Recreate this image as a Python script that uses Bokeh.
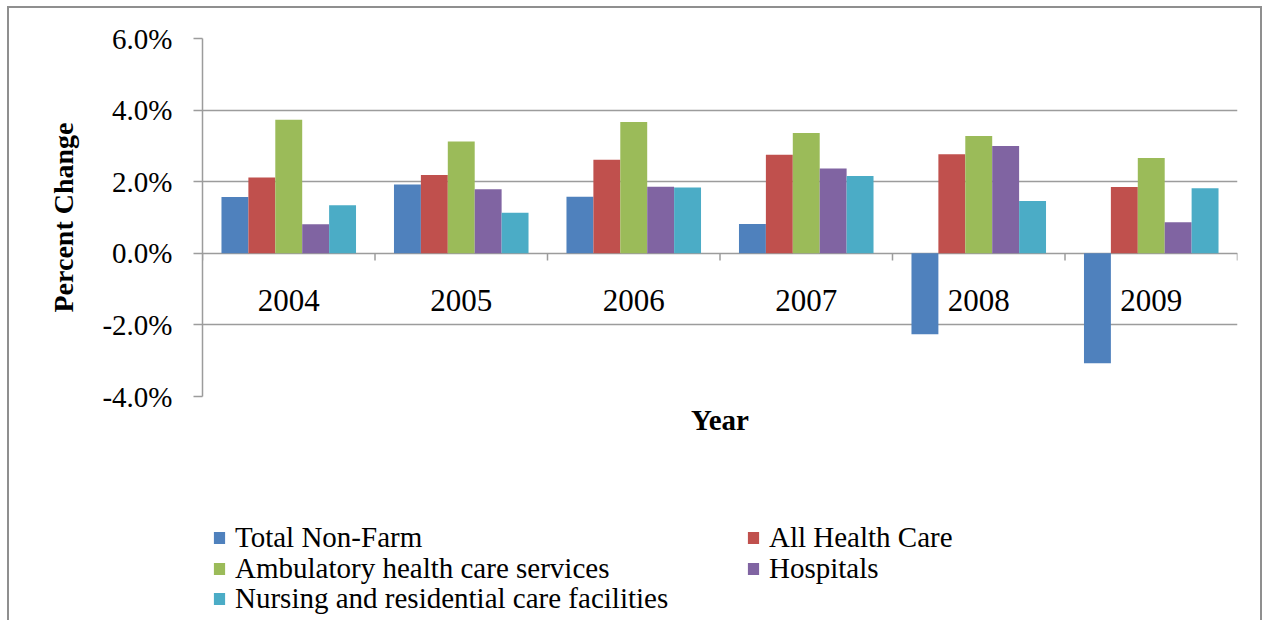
from bokeh.plotting import figure
from bokeh.layouts import column
from bokeh.models import (ColumnDataSource, FactorRange, Range1d, FixedTicker,
                          PrintfTickFormatter, Legend, LegendItem, Title)
from bokeh.transform import dodge
from bokeh.core.properties import value
from bokeh.embed import file_html
from bokeh.resources import INLINE

# Annual percent change in employment
years = ["2004", "2005", "2006", "2007", "2008", "2009"]
total_non_farm = [1.57, 1.92, 1.58, 0.82, -2.26, -3.07]
all_health_care = [2.12, 2.19, 2.61, 2.75, 2.77, 1.85]
ambulatory = [3.73, 3.12, 3.67, 3.36, 3.28, 2.66]
hospitals = [0.81, 1.79, 1.86, 2.37, 3.00, 0.87]
nursing = [1.34, 1.13, 1.84, 2.16, 1.46, 1.82]

series_names = ["Total Non-Farm", "All Health Care", "Ambulatory health care services",
                "Hospitals", "Nursing and residential care facilities"]
series_keys = ["total_non_farm", "all_health_care", "ambulatory", "hospitals", "nursing"]
colors = ["#4F81BD", "#C0504D", "#9BBB59", "#8064A2", "#4BACC6"]
y_ticks = [-4, -2, 0, 2, 4, 6]

SERIF = "Liberation Serif"
GRID = "#9c9c9c"
FRAME = "2px solid #8f8f8f"

source = ColumnDataSource(dict(
    year=years,
    total_non_farm=total_non_farm,
    all_health_care=all_health_care,
    ambulatory=ambulatory,
    hospitals=hospitals,
    nursing=nursing,
))

# ---- bar chart -------------------------------------------------------------
p = figure(
    x_range=FactorRange(*years, range_padding=0, factor_padding=0),
    y_range=Range1d(y_ticks[0], y_ticks[-1]),
    width=1255, height=454,
    x_axis_location=None,
    output_backend="svg", toolbar_location=None,
    min_border_left=193, min_border_right=27,
    min_border_top=30, min_border_bottom=66,
)
p.margin = (6, 0, 0, 7)
p.styles = {"border-left": FRAME, "border-right": FRAME, "border-top": FRAME}
p.title.visible = False
p.outline_line_color = None
p.background_fill_color = "white"
p.border_fill_color = "white"

# bars, five per year, side by side
bar_w = 0.156
for i, (key, col) in enumerate(zip(series_keys, colors)):
    p.vbar(x=dodge("year", (i - 2) * bar_w, range=p.x_range), top=key, bottom=0,
           width=bar_w, source=source, fill_color=col, line_color=None)

# y axis
p.yaxis.ticker = FixedTicker(ticks=y_ticks)
p.yaxis.formatter = PrintfTickFormatter(format="%.1f%%")
p.yaxis.major_tick_out = 9
p.yaxis.major_tick_in = 0
p.yaxis.minor_tick_line_color = None
p.yaxis.axis_line_color = GRID
p.yaxis.axis_line_width = 1.5
p.yaxis.major_tick_line_color = GRID
p.yaxis.major_tick_line_width = 1.5
p.yaxis.major_label_standoff = 21
p.yaxis.major_label_text_font = SERIF
p.yaxis.major_label_text_font_size = "29px"
p.yaxis.major_label_text_color = "black"
p.yaxis.axis_label = "Percent Change"
p.yaxis.axis_label_text_font = SERIF
p.yaxis.axis_label_text_font_style = "bold"
p.yaxis.axis_label_text_font_size = "28px"
p.yaxis.axis_label_text_color = "black"
p.yaxis.axis_label_standoff = 20

p.ygrid.ticker = FixedTicker(ticks=y_ticks)
p.ygrid.grid_line_color = GRID
p.ygrid.grid_line_width = 1.5
p.xgrid.visible = False

# category axis drawn along the zero line: ticks at category boundaries
p.segment(x0=dodge("year", -0.5, range=p.x_range), x1=dodge("year", -0.5, range=p.x_range),
          y0=0, y1=-0.2, source=source, line_color=GRID, line_width=1.5)
last_src = ColumnDataSource(dict(year=[years[-1]]))
p.segment(x0=dodge("year", 0.5, range=p.x_range), x1=dodge("year", 0.5, range=p.x_range),
          y0=0, y1=-0.2, source=last_src, line_color=GRID, line_width=1.5)

p.text(x="year", y=-1.32, text="year", source=source, text_align="center",
       text_baseline="alphabetic", text_font=value(SERIF), text_font_size="31px",
       text_color="black")

# x axis title
p.add_layout(Title(text="Year", align="center", text_font=SERIF, text_font_style="bold",
                   text_font_size="29px", text_color="black", standoff=10), "below")

# ---- legend strip under the chart ------------------------------------------
k = figure(width=1255, height=160, x_range=Range1d(0, 1), y_range=Range1d(0, 1),
           x_axis_location=None, y_axis_location=None,
           output_backend="svg", toolbar_location=None,
           min_border_left=0, min_border_right=0, min_border_top=0, min_border_bottom=0)
k.margin = (0, 0, 0, 7)
k.styles = {"border-left": FRAME, "border-right": FRAME}
k.title.visible = False
k.outline_line_color = None
k.grid.visible = False
k.background_fill_color = "white"
k.border_fill_color = "white"

# zero-height swatch renderers: they only provide the legend glyphs
swatches = [k.vbar(x=[0.5], top=[0.0], bottom=[0.0], width=0.0, fill_color=c, line_color=None)
            for c in colors]

# two columns, filled row by row (pixel offsets from the strip's plot-area lower-left corner)
slots = [(10, 65.5), (544, 65.5), (10, 34.5), (544, 34.5), (10, 4.7)]
for name, sw, loc in zip(series_names, swatches, slots):
    k.add_layout(Legend(items=[LegendItem(label=name, renderers=[sw])], location=loc,
                        label_text_font=SERIF, label_text_font_size="29px",
                        label_text_color="black", glyph_width=14, glyph_height=15,
                        label_standoff=9, label_height=34, spacing=0, padding=0, margin=0,
                        border_line_color=None, background_fill_alpha=0))

open("out.html", "w").write(file_html(column(p, k), INLINE))
